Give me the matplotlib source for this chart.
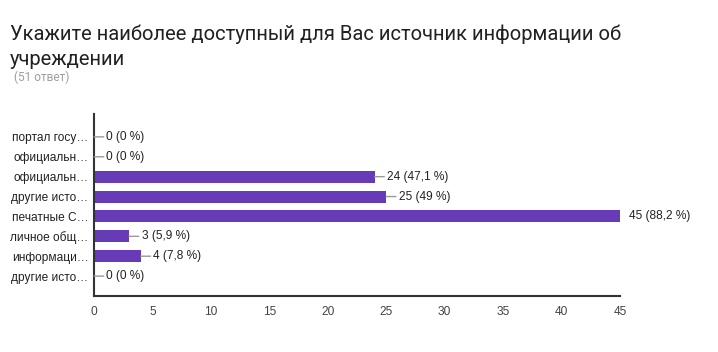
import matplotlib

matplotlib.use("Agg")
import matplotlib.pyplot as plt

title = "Укажите наиболее доступный для Вас источник информации об\nучреждении"
subtitle = "(51 ответ)"
labels = [
    "портал госу…",
    "официальн…",
    "официальн…",
    "другие исто…",
    "печатные С…",
    "личное общ…",
    "информаци…",
    "другие исто…",
]
counts = [0, 0, 24, 25, 45, 3, 4, 0]
percents = ["0", "0", "47,1", "49", "88,2", "5,9", "7,8", "0"]
xticks = [0, 5, 10, 15, 20, 25, 30, 35, 40, 45]

BAR = "#673AB7"

fig = plt.figure(figsize=(7.18, 3.52), dpi=100)
ax = fig.add_axes([94 / 718, 1 - 296 / 352, 526 / 718, 182 / 352])

pos = list(range(len(labels)))
ax.barh(pos, counts, height=0.6, color=BAR)
ax.set_ylim(len(labels), -1.15)
ax.set_xlim(0, 45)

for i, (c, p) in enumerate(zip(counts, percents)):
    txt = f"{c} ({p} %)"
    if c >= 45:
        ax.annotate(txt, xy=(c, i), xytext=(6.5, 0), textcoords="offset points",
                    va="center", ha="left", fontsize=8.6, color="#222222",
                    family="Liberation Sans", annotation_clip=False)
    else:
        ax.annotate(txt, xy=(c, i), xytext=(9, 0), textcoords="offset points",
                    va="center", ha="left", fontsize=8.6, color="#222222",
                    family="Liberation Sans",
                    arrowprops=dict(arrowstyle="-", color="#999999", lw=1,
                                    shrinkA=0, shrinkB=0))

ax.set_yticks(pos)
ax.set_yticklabels(labels, family="Liberation Sans", fontsize=8.6, color="#222222")
ax.set_xticks(xticks)
ax.set_xticklabels([str(t) for t in xticks], family="Liberation Sans",
                   fontsize=8.6, color="#444444")
ax.tick_params(axis="both", length=0)
ax.tick_params(axis="y", pad=4)
ax.tick_params(axis="x", pad=7)

for side in ("top", "right"):
    ax.spines[side].set_visible(False)
for side in ("left", "bottom"):
    ax.spines[side].set_color("#333333")
    ax.spines[side].set_linewidth(1.5)

fig.text(10 / 718, 1 - 24 / 352, title, family="Roboto", fontsize=14.5,
         color="#212121", va="top", ha="left", linespacing=1.45)
fig.text(14 / 718, 1 - 77 / 352, subtitle, family="Roboto", fontsize=8.6,
         color="#9e9e9e", va="center", ha="left")

fig.savefig("out.png", dpi=100)
